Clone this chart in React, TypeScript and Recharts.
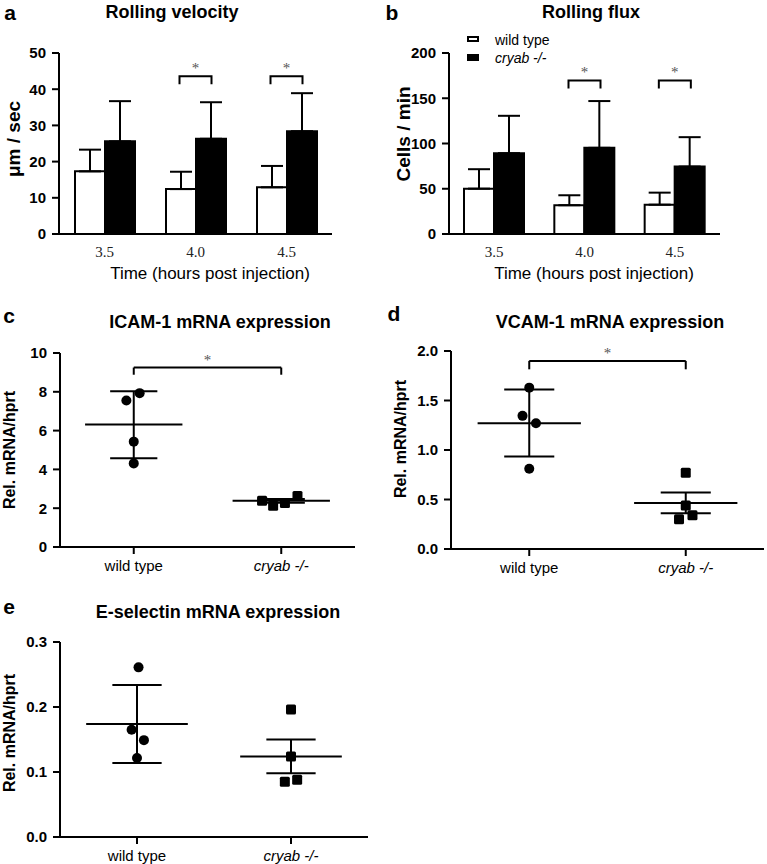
import React from 'react';
import {
  BarChart,
  Bar,
  XAxis,
  YAxis,
  ErrorBar,
  ReferenceDot,
  ReferenceLine,
  ScatterChart,
  Scatter,
} from 'recharts';

// panel a / b: time points and bar values
const timePoints = ['3.5', '4.0', '4.5'];

const velocityWT = [17.3, 12.4, 12.9];
const velocityWTErr = [6.0, 4.8, 5.9];
const velocityKO = [25.6, 26.3, 28.4];
const velocityKOErr = [11.1, 10.1, 10.5];
const velocitySig = ['4.0', '4.5'];
const velocitySigY = 43.6;
const velocityTicks = [0, 10, 20, 30, 40, 50];

const fluxWT = [50.1, 31.8, 32.4];
const fluxWTErr = [21.5, 11.0, 13.3];
const fluxKO = [89.3, 95.2, 74.5];
const fluxKOErr = [41.3, 51.7, 32.5];
const fluxSig = ['4.0', '4.5'];
const fluxSigY = 169.7;
const fluxTicks = [0, 50, 100, 150, 200];

// panel c / d / e: groups and points
const groups = ['wild type', 'cryab -/-'];

const icamWT = [7.93, 7.55, 5.43, 4.31];
const icamWTJitter = [0.04, -0.05, 0, 0];
const icamKO = [2.38, 2.12, 2.27, 2.63];
const icamKOJitter = [-0.13, -0.055, 0.025, 0.11];
const icamMean = [6.31, 2.38];
const icamLow = [4.57, 2.28];
const icamHigh = [8.03, 2.48];
const icamTicks = [0, 2, 4, 6, 8, 10];

const vcamWT = [1.63, 1.345, 1.27, 0.81];
const vcamWTJitter = [0, -0.043, 0.043, 0];
const vcamKO = [0.77, 0.44, 0.3, 0.34];
const vcamKOJitter = [0, 0, -0.043, 0.043];
const vcamMean = [1.27, 0.465];
const vcamLow = [0.935, 0.36];
const vcamHigh = [1.61, 0.57];
const vcamTicks = [0, 0.5, 1.0, 1.5, 2.0];

const selWT = [0.261, 0.165, 0.149, 0.1215];
const selWTJitter = [0.01, -0.035, 0.045, 0];
const selKO = [0.196, 0.124, 0.085, 0.088];
const selKOJitter = [0, 0, -0.04, 0.04];
const selMean = [0.174, 0.124];
const selLow = [0.114, 0.098];
const selHigh = [0.234, 0.15];
const selTicks = [0, 0.1, 0.2, 0.3];

const SANS = '"Liberation Sans", Arial, Helvetica, sans-serif';
const SERIF = '"Liberation Serif", "Times New Roman", serif';

const axisLine = { stroke: '#000', strokeWidth: 2 };

const Txt = ({ x, y, size, bold, italic, rotate, children, align = 'center' }: any) => (
  <div
    style={{
      position: 'absolute',
      left: x,
      top: y,
      fontFamily: SANS,
      fontSize: size,
      fontWeight: bold ? 700 : 400,
      fontStyle: italic ? 'italic' : 'normal',
      whiteSpace: 'nowrap',
      lineHeight: 1,
      color: '#000',
      transform: `translate(${align === 'center' ? '-50%' : '0'}, -50%)${rotate ? ' rotate(-90deg)' : ''}`,
    }}
  >
    {children}
  </div>
);

// bold numeric tick on the y axes
const ValueTick = (props: any) => {
  const { x, y, payload, digits = 0 } = props;
  return (
    <text
      x={x}
      y={y}
      dy="0.36em"
      textAnchor="end"
      fontSize={15}
      fontWeight={700}
      fontFamily={SANS}
      fill="#000"
    >
      {Number(payload.value).toFixed(digits)}
    </text>
  );
};

const BracketMark = (props: any) => {
  const { cx, cy } = props;
  return (
    <g>
      <path d={`M${cx - 16},${cy + 8}V${cy}H${cx + 16}V${cy + 8}`} fill="none" stroke="#000" strokeWidth={2} />
      <text x={cx} y={cy - 3} textAnchor="middle" fontSize={15} fontFamily={SERIF} fill="#555">
        *
      </text>
    </g>
  );
};

const StarMark = (props: any) => (
  <text x={props.cx} y={props.cy - 3} textAnchor="middle" fontSize={15} fontFamily={SERIF} fill="#555">
    *
  </text>
);

function BarPanel({ left, width, plotLeft, plotRight, wt, wtErr, ko, koErr, sig, sigY, ticks }: any) {
  const data = timePoints.map((t, i) => ({
    time: t,
    wt: wt[i],
    ko: ko[i],
    wtErr: [0, wtErr[i]],
    koErr: [0, koErr[i]],
  }));
  return (
    <div style={{ position: 'absolute', left, top: 0 }}>
      <BarChart
        width={width}
        height={290}
        data={data}
        margin={{ top: 53, right: width - plotRight, bottom: 26, left: plotLeft - 50 }}
        barGap={0}
        barSize={30}
      >
        <XAxis
          dataKey="time"
          axisLine={axisLine}
          tickLine={false}
          tickSize={8}
          tickMargin={4}
          height={30}
          tick={{ fill: '#222', fontSize: 15, fontFamily: SERIF }}
        />
        <YAxis
          type="number"
          domain={[0, ticks[ticks.length - 1]]}
          ticks={ticks}
          interval={0}
          width={50}
          axisLine={axisLine}
          tickLine={axisLine}
          tickSize={7}
          tickMargin={6}
          tick={<ValueTick />}
        />
        <Bar dataKey="wt" fill="#fff" stroke="#000" strokeWidth={2} isAnimationActive={false}>
          <ErrorBar dataKey="wtErr" width={11} strokeWidth={2} stroke="#000" direction="y" isAnimationActive={false} />
        </Bar>
        <Bar dataKey="ko" fill="#000" stroke="#000" strokeWidth={2} isAnimationActive={false}>
          <ErrorBar dataKey="koErr" width={11} strokeWidth={2} stroke="#000" direction="y" isAnimationActive={false} />
        </Bar>
        {sig.map((t: string) => (
          <ReferenceDot key={t} x={t} y={sigY} r={0} shape={BracketMark} ifOverflow="visible" />
        ))}
      </BarChart>
    </div>
  );
}

const GroupTick = (props: any) => {
  const { x, y, payload } = props;
  const idx = Math.floor(payload.value);
  return (
    <text
      x={x}
      y={y}
      dy="0.71em"
      textAnchor="middle"
      fontSize={15}
      fontFamily={SANS}
      fontStyle={idx === 1 ? 'italic' : 'normal'}
      fill="#000"
    >
      {groups[idx]}
    </text>
  );
};

function DotPanel({ left, top, width, height, plotLeft, plotRight, plotTop, plotBottom, wt, wtJ, ko, koJ, mean, low, high, ticks, sigY, sigLeg, digits }: any) {
  const wtPts = wt.map((y: number, i: number) => ({ x: 0.5 + wtJ[i], y }));
  const koPts = ko.map((y: number, i: number) => ({ x: 1.5 + koJ[i], y }));
  const lineProps = { stroke: '#000', strokeWidth: 2, ifOverflow: 'visible' as const };
  return (
    <div style={{ position: 'absolute', left, top }}>
      <ScatterChart
        width={width}
        height={height}
        margin={{ top: plotTop, right: width - plotRight, bottom: height - plotBottom - 30, left: plotLeft - 50 }}
      >
        <XAxis
          type="number"
          dataKey="x"
          domain={[0, 2]}
          ticks={[0.5, 1.5]}
          interval={0}
          height={30}
          axisLine={axisLine}
          tickLine={axisLine}
          tickSize={7}
          tickMargin={6}
          tick={<GroupTick />}
        />
        <YAxis
          type="number"
          dataKey="y"
          domain={[0, ticks[ticks.length - 1]]}
          ticks={ticks}
          interval={0}
          width={50}
          axisLine={axisLine}
          tickLine={axisLine}
          tickSize={7}
          tickMargin={6}
          tick={<ValueTick digits={digits} />}
        />
        {mean.map((m: number, i: number) => {
          const c = i + 0.5;
          return (
            <React.Fragment key={i}>
              <ReferenceLine segment={[{ x: c - 0.33, y: m }, { x: c + 0.33, y: m }]} {...lineProps} />
              <ReferenceLine segment={[{ x: c, y: low[i] }, { x: c, y: high[i] }]} {...lineProps} />
              <ReferenceLine segment={[{ x: c - 0.16, y: low[i] }, { x: c + 0.16, y: low[i] }]} {...lineProps} />
              <ReferenceLine segment={[{ x: c - 0.16, y: high[i] }, { x: c + 0.16, y: high[i] }]} {...lineProps} />
            </React.Fragment>
          );
        })}
        {sigY !== undefined && (
          <>
            <ReferenceLine segment={[{ x: 0.5, y: sigY }, { x: 1.5, y: sigY }]} {...lineProps} />
            <ReferenceLine segment={[{ x: 0.5, y: sigY }, { x: 0.5, y: sigLeg }]} {...lineProps} />
            <ReferenceLine segment={[{ x: 1.5, y: sigY }, { x: 1.5, y: sigLeg }]} {...lineProps} />
            <ReferenceDot x={1} y={sigY} r={0} shape={StarMark} ifOverflow="visible" />
          </>
        )}
        <Scatter
          data={wtPts}
          fill="#000"
          isAnimationActive={false}
          shape={(p: any) => <circle cx={p.cx} cy={p.cy} r={5} fill="#000" />}
        />
        <Scatter
          data={koPts}
          fill="#000"
          isAnimationActive={false}
          shape={(p: any) => <rect x={p.cx - 5} y={p.cy - 5} width={10} height={10} rx={1.5} fill="#000" />}
        />
      </ScatterChart>
    </div>
  );
}

export default function App() {
  return (
    <div style={{ position: 'absolute', left: 0, top: 0, width: 767, height: 864, background: '#fff', overflow: 'hidden' }}>
      {/* a */}
      <BarPanel
        left={0}
        width={384}
        plotLeft={59}
        plotRight={332}
        wt={velocityWT}
        wtErr={velocityWTErr}
        ko={velocityKO}
        koErr={velocityKOErr}
        sig={velocitySig}
        sigY={velocitySigY}
        ticks={velocityTicks}
      />
      <Txt x={10} y={12} size={21} bold>a</Txt>
      <Txt x={172} y={12} size={18} bold>Rolling velocity</Txt>
      <Txt x={13} y={139} size={19} bold rotate>μm / sec</Txt>
      <Txt x={210} y={273} size={17}>Time (hours post injection)</Txt>

      {/* b */}
      <BarPanel
        left={384}
        width={383}
        plotLeft={65}
        plotRight={336}
        wt={fluxWT}
        wtErr={fluxWTErr}
        ko={fluxKO}
        koErr={fluxKOErr}
        sig={fluxSig}
        sigY={fluxSigY}
        ticks={fluxTicks}
      />
      <Txt x={392} y={12} size={21} bold>b</Txt>
      <Txt x={591} y={12} size={18} bold>Rolling flux</Txt>
      <Txt x={403} y={134} size={19} bold rotate>Cells / min</Txt>
      <Txt x={594} y={273} size={17}>Time (hours post injection)</Txt>
      <div style={{ position: 'absolute', left: 467, top: 36, width: 8, height: 2, border: '2px solid #000', background: '#fff' }} />
      <div style={{ position: 'absolute', left: 467, top: 54, width: 12, height: 7, background: '#000' }} />
      <Txt x={495} y={40} size={14} align="left">wild type</Txt>
      <Txt x={495} y={58} size={14} italic align="left">cryab -/-</Txt>

      {/* c */}
      <DotPanel
        left={0}
        top={290}
        width={384}
        height={290}
        plotLeft={60}
        plotRight={355}
        plotTop={63}
        plotBottom={257}
        wt={icamWT}
        wtJ={icamWTJitter}
        ko={icamKO}
        koJ={icamKOJitter}
        mean={icamMean}
        low={icamLow}
        high={icamHigh}
        ticks={icamTicks}
        sigY={9.25}
        sigLeg={8.88}
        digits={0}
      />
      <Txt x={9} y={315} size={21} bold>c</Txt>
      <Txt x={220} y={322} size={18} bold>ICAM-1 mRNA expression</Txt>
      <Txt x={10} y={450} size={16} bold rotate>Rel. mRNA/hprt</Txt>

      {/* d */}
      <DotPanel
        left={384}
        top={290}
        width={383}
        height={290}
        plotLeft={67}
        plotRight={380}
        plotTop={61}
        plotBottom={259}
        wt={vcamWT}
        wtJ={vcamWTJitter}
        ko={vcamKO}
        koJ={vcamKOJitter}
        mean={vcamMean}
        low={vcamLow}
        high={vcamHigh}
        ticks={vcamTicks}
        sigY={1.9}
        sigLeg={1.815}
        digits={1}
      />
      <Txt x={394} y={313} size={21} bold>d</Txt>
      <Txt x={610} y={322} size={18} bold>VCAM-1 mRNA expression</Txt>
      <Txt x={401} y={439} size={16} bold rotate>Rel. mRNA/hprt</Txt>

      {/* e */}
      <DotPanel
        left={0}
        top={580}
        width={384}
        height={284}
        plotLeft={60}
        plotRight={368}
        plotTop={62}
        plotBottom={257}
        wt={selWT}
        wtJ={selWTJitter}
        ko={selKO}
        koJ={selKOJitter}
        mean={selMean}
        low={selLow}
        high={selHigh}
        ticks={selTicks}
        digits={1}
      />
      <Txt x={9} y={606} size={21} bold>e</Txt>
      <Txt x={218} y={612} size={18} bold>E-selectin mRNA expression</Txt>
      <Txt x={10} y={733} size={16} bold rotate>Rel. mRNA/hprt</Txt>
    </div>
  );
}
